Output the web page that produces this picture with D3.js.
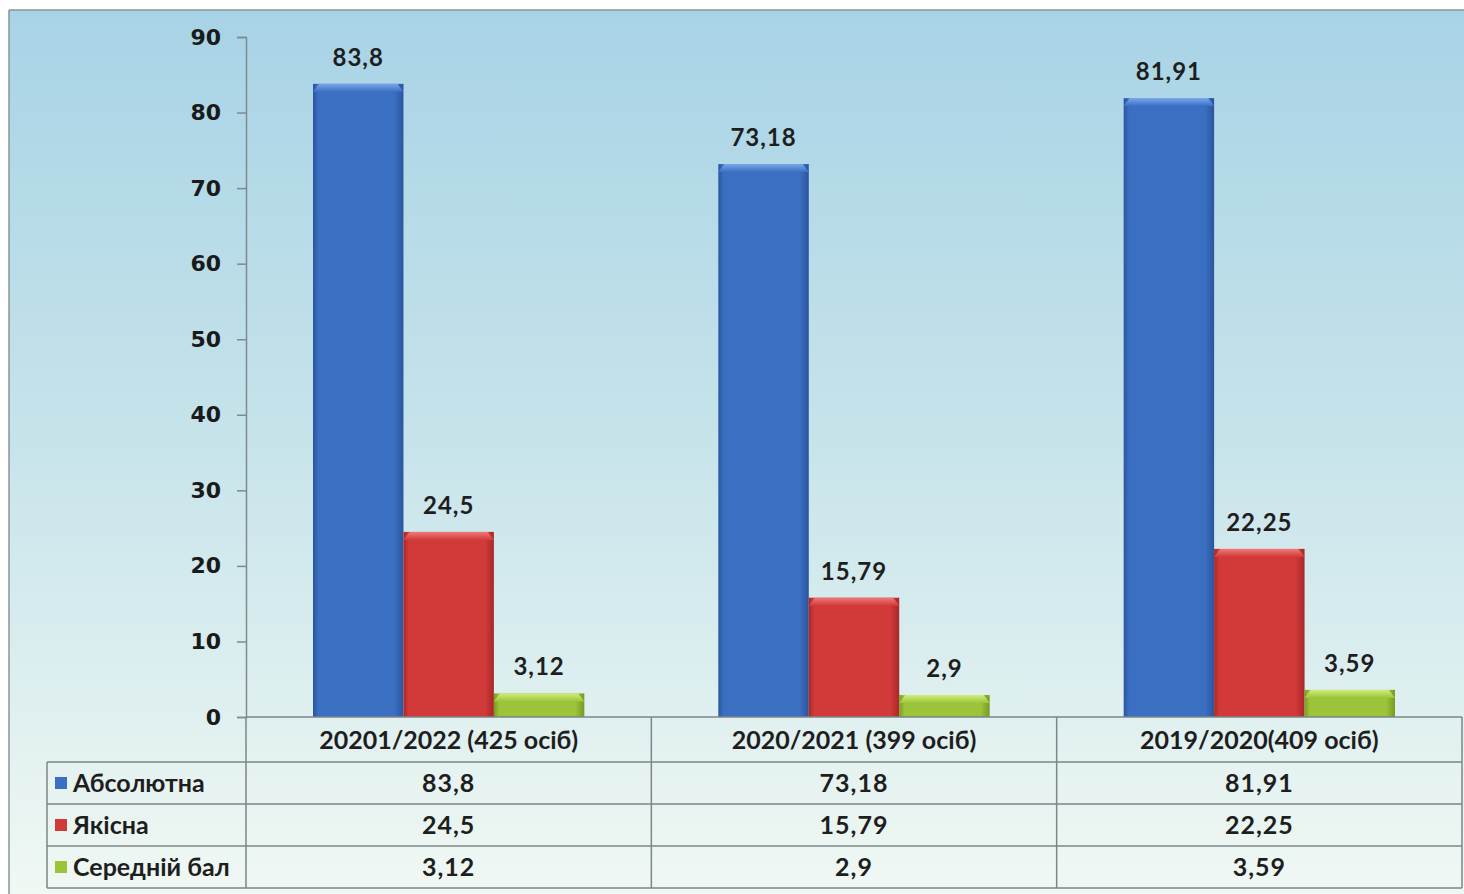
<!DOCTYPE html>
<html>
<head>
<meta charset="utf-8">
<script src="https://cdn.jsdelivr.net/npm/d3@7"></script>
<style>
  body { margin: 0; background: #fff; }
  svg { display: block; }
</style>
</head>
<body>
<svg width="1464" height="894"></svg>
<script>
// data
const categories = ['20201/2022 (425 осіб)', '2020/2021 (399 осіб)', '2019/2020(409 осіб)']
const seriesNames = ['Абсолютна', 'Якісна', 'Середній бал']
const absolute = [83.8, 73.18, 81.91]
const quality = [24.5, 15.79, 22.25]
const average = [3.12, 2.9, 3.59]
const yTicks = [0, 10, 20, 30, 40, 50, 60, 70, 80, 90]

const series = [absolute, quality, average]
const colors = [
  {base: '#3b6fc2', light: '#78a6ea', dark: '#2a559d'},
  {base: '#d23a3a', light: '#f07a7a', dark: '#a82828'},
  {base: '#9cc43a', light: '#d2ec7a', dark: '#789a24'}
]

const svg = d3.select('svg')
const fmt = v => String(v).replace('.', ',')

const dim = {left: 246, right: 1462, top: 37, bottom: 717, frameLeft: 9, frameTop: 10, tableLeft: 47}
const rowH = [45, 42, 42, 42]

// background gradient
const defs = svg.append('defs')
const bg = defs.append('linearGradient').attr('id', 'bg').attr('x1', 0).attr('y1', 0).attr('x2', 0).attr('y2', 1)
bg.append('stop').attr('offset', '0%').attr('stop-color', '#a8d3e6')
bg.append('stop').attr('offset', '45%').attr('stop-color', '#c4e2ea')
bg.append('stop').attr('offset', '100%').attr('stop-color', '#f0f8f3')

colors.forEach((c, i) => {
  const g = defs.append('linearGradient').attr('id', 'bar' + i).attr('x1', 0).attr('x2', 1).attr('y1', 0).attr('y2', 0)
  g.append('stop').attr('offset', '0%').attr('stop-color', c.dark)
  g.append('stop').attr('offset', '6%').attr('stop-color', c.base)
  g.append('stop').attr('offset', '90%').attr('stop-color', c.base)
  g.append('stop').attr('offset', '100%').attr('stop-color', c.dark)
  const t = defs.append('linearGradient').attr('id', 'cap' + i).attr('x1', 0).attr('x2', 0).attr('y1', 0).attr('y2', 1)
  t.append('stop').attr('offset', '0%').attr('stop-color', c.light)
  t.append('stop').attr('offset', '100%').attr('stop-color', c.base)
})

svg.append('rect')
  .attr('x', dim.frameLeft).attr('y', dim.frameTop)
  .attr('width', 1464 - dim.frameLeft).attr('height', 894 - dim.frameTop)
  .attr('fill', 'url(#bg)')
svg.append('line')
  .attr('x1', dim.frameLeft).attr('x2', 1464).attr('y1', dim.frameTop).attr('y2', dim.frameTop)
  .attr('stroke', '#8a9498').attr('stroke-width', 1.5)
svg.append('line')
  .attr('x1', dim.frameLeft).attr('x2', dim.frameLeft).attr('y1', dim.frameTop).attr('y2', 894)
  .attr('stroke', '#8a9498').attr('stroke-width', 1.5)

// scales
const x = d3.scaleBand()
  .domain(categories)
  .range([dim.left, dim.right])
  .paddingInner(0)
  .paddingOuter(0)
const xInner = d3.scaleBand()
  .domain(d3.range(series.length))
  .range([67, x.bandwidth() - 67])
const y = d3.scaleLinear()
  .domain([0, 90])
  .range([dim.bottom, dim.top])

// y axis
const yAxis = d3.axisLeft(y).tickValues(yTicks).tickSize(9).tickPadding(16)
const ya = svg.append('g')
  .attr('transform', `translate(${dim.left}, 0)`)
  .call(yAxis)
ya.select('.domain').attr('stroke', '#7f8a8e').attr('stroke-width', 1.5)
ya.selectAll('.tick line').attr('stroke', '#7f8a8e').attr('stroke-width', 1.5)
ya.selectAll('.tick text')
  .attr('font-family', 'DejaVu Sans, sans-serif')
  .attr('font-weight', 'bold')
  .attr('font-size', 22)
  .attr('fill', '#1a1a1a')

// bars
series.forEach((vals, si) => {
  const g = svg.append('g')
  const bars = g.selectAll('g').data(vals).join('g')
    .attr('transform', (d, i) => `translate(${x(categories[i]) + xInner(si)}, 0)`)
  const w = xInner.bandwidth()
  bars.append('rect')
    .attr('x', 0).attr('y', d => y(d))
    .attr('width', w).attr('height', d => y(0) - y(d))
    .attr('fill', `url(#bar${si})`)
  bars.append('path')
    .attr('d', d => {
      const top = y(d), cap = Math.min(8, y(0) - y(d))
      return `M0,${top + cap}L6,${top}L${w - 6},${top}L${w},${top + cap}Z`
    })
    .attr('fill', `url(#cap${si})`)
  bars.append('text')
    .attr('x', w / 2).attr('y', d => y(d) - 18)
    .attr('text-anchor', 'middle')
    .attr('font-family', 'Lato, sans-serif')
    .attr('font-weight', 'bold')
    .attr('font-size', 24)
    .attr('letter-spacing', 1)
    .attr('fill', '#1e1e1e')
    .text(d => fmt(d))
})

// data table
const table = svg.append('g')
const lineColor = '#7d8689'
const rowY = [dim.bottom]
rowH.forEach(h => rowY.push(rowY[rowY.length - 1] + h))

// horizontal lines
table.append('line')
  .attr('x1', dim.left).attr('x2', dim.right).attr('y1', rowY[0]).attr('y2', rowY[0])
  .attr('stroke', lineColor).attr('stroke-width', 1.5)
rowY.slice(1).forEach(yy => {
  table.append('line')
    .attr('x1', dim.tableLeft).attr('x2', dim.right).attr('y1', yy).attr('y2', yy)
    .attr('stroke', lineColor).attr('stroke-width', 1.5)
})
// vertical lines
categories.forEach(c => {
  table.append('line')
    .attr('x1', x(c)).attr('x2', x(c)).attr('y1', rowY[0]).attr('y2', rowY[4])
    .attr('stroke', lineColor).attr('stroke-width', 1.5)
})
table.append('line')
  .attr('x1', dim.right).attr('x2', dim.right).attr('y1', rowY[0]).attr('y2', rowY[4])
  .attr('stroke', lineColor).attr('stroke-width', 1.5)
table.append('line')
  .attr('x1', dim.tableLeft).attr('x2', dim.tableLeft).attr('y1', rowY[1]).attr('y2', rowY[4])
  .attr('stroke', lineColor).attr('stroke-width', 1.5)

const cellFont = sel => sel
  .attr('font-family', 'Lato, sans-serif')
  .attr('font-weight', 'bold')
  .attr('font-size', 25)
  .attr('fill', '#1e1e1e')

table.selectAll('.cat').data(categories).join('text')
  .attr('x', d => x(d) + x.bandwidth() / 2)
  .attr('y', (rowY[0] + rowY[1]) / 2 + 9)
  .attr('text-anchor', 'middle')
  .call(cellFont)
  .text(d => d)

series.forEach((vals, si) => {
  const cy = (rowY[si + 1] + rowY[si + 2]) / 2
  table.append('rect')
    .attr('x', 55).attr('y', cy - 6).attr('width', 12).attr('height', 12)
    .attr('fill', colors[si].base)
  table.append('text')
    .attr('x', 73).attr('y', cy + 9)
    .call(cellFont)
    .text(seriesNames[si])
  table.selectAll(null).data(vals).join('text')
    .attr('x', (d, i) => x(categories[i]) + x.bandwidth() / 2)
    .attr('y', cy + 9)
    .attr('text-anchor', 'middle')
    .attr('letter-spacing', 1)
    .call(cellFont)
    .text(d => fmt(d))
})
</script>
</body>
</html>
